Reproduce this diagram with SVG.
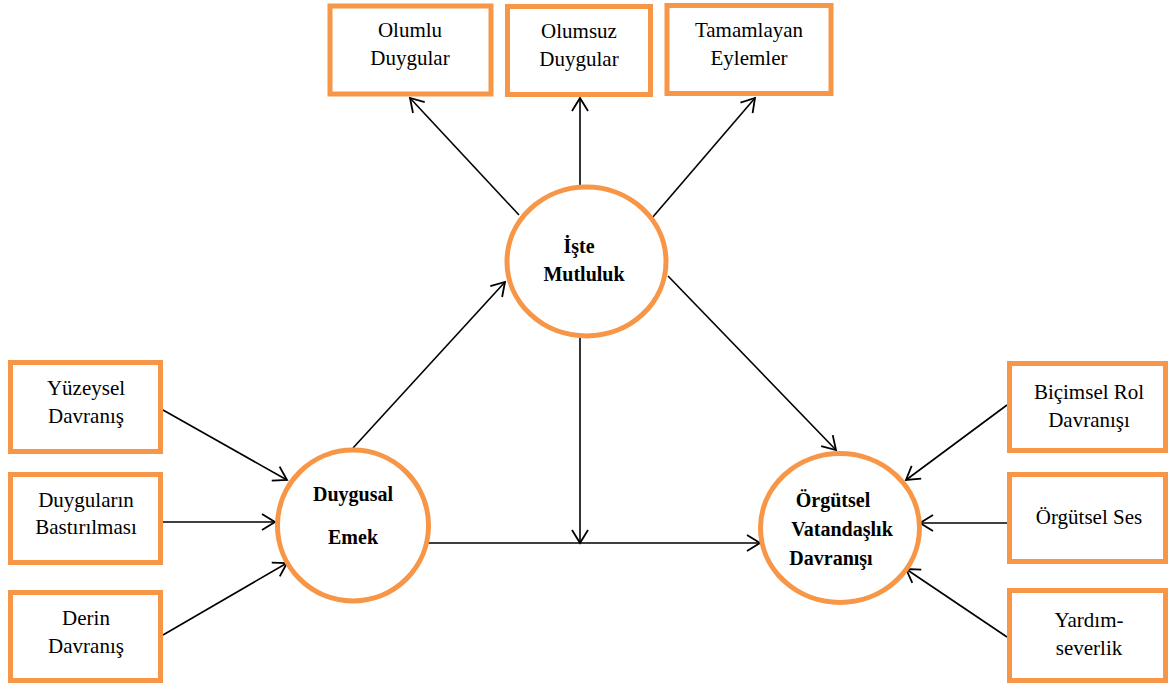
<svg xmlns="http://www.w3.org/2000/svg" width="1168" height="686" viewBox="0 0 1168 686">
<style>
.box{fill:#fff;stroke:#F79646;stroke-width:5}
.node{fill:#fff;stroke:#F79646;stroke-width:5}
.c line{stroke:#000;stroke-width:1.6;fill:none;marker-end:url(#ah)}
</style>
<defs>
<marker id="ah" markerUnits="userSpaceOnUse" markerWidth="30" markerHeight="30" viewBox="-15 -15 30 30" refX="0" refY="0" orient="auto">
<path d="M -13 -8 L 0 0 L -13 8" fill="none" stroke="#000" stroke-width="1.8"/>
</marker>
</defs>
<rect width="1168" height="686" fill="#fff"/>
<g class="c" id="connectors">
<line x1="519" y1="215" x2="410" y2="98"/>
<line x1="580" y1="185" x2="580" y2="98"/>
<line x1="652" y1="218" x2="755" y2="98"/>
<line x1="353" y1="448" x2="505" y2="282"/>
<line x1="668" y1="276" x2="836" y2="450"/>
<line x1="580" y1="338" x2="580" y2="543"/>
<line x1="425" y1="543" x2="760" y2="543"/>
<line x1="163" y1="410" x2="287" y2="480"/>
<line x1="161" y1="522" x2="275" y2="522"/>
<line x1="163" y1="635" x2="287" y2="563"/>
<line x1="1007" y1="405" x2="906" y2="480"/>
<line x1="1007" y1="523" x2="920" y2="523"/>
<line x1="1007" y1="637" x2="906" y2="569"/>
</g>
<g font-family="Liberation Serif, Tinos, Times New Roman, Noto Serif, DejaVu Serif, serif" font-size="21" text-anchor="middle" fill="#000">
<g id="olumlu"><rect class="box" x="330" y="6" width="161" height="88"/><text x="410" y="37">Olumlu</text><text x="410" y="65">Duygular</text></g>
<g id="olumsuz"><rect class="box" x="507.5" y="6.5" width="143" height="88"/><text x="579" y="38">Olumsuz</text><text x="579" y="66">Duygular</text></g>
<g id="tamamlayan"><rect class="box" x="667" y="5.5" width="164" height="88"/><text x="749" y="37">Tamamlayan</text><text x="749" y="65">Eylemler</text></g>
<g id="yuzeysel"><rect class="box" x="10.5" y="362.5" width="150" height="89"/><text x="86" y="395">Yüzeysel</text><text x="86" y="423">Davranış</text></g>
<g id="bastirilmasi"><rect class="box" x="10.5" y="474.5" width="150" height="88"/><text x="86" y="507">Duyguların</text><text x="86" y="534">Bastırılması</text></g>
<g id="derin"><rect class="box" x="10.5" y="592.5" width="150" height="88"/><text x="86" y="625">Derin</text><text x="86" y="653">Davranış</text></g>
<g id="bicimsel"><rect class="box" x="1009.5" y="363.5" width="156" height="87"/><text x="1089" y="399">Biçimsel Rol</text><text x="1089" y="427">Davranışı</text></g>
<g id="ses"><rect class="box" x="1009.5" y="474.5" width="156" height="87"/><text x="1089" y="524">Örgütsel Ses</text></g>
<g id="yardim"><rect class="box" x="1009.5" y="590.5" width="156" height="90"/><text x="1089" y="627">Yardım-</text><text x="1089" y="655">severlik</text></g>
<g font-weight="bold" font-size="20">
<g id="duygusal"><circle class="node" cx="353" cy="525.5" r="75.5"/><text x="353" y="501">Duygusal</text><text x="353" y="544">Emek</text></g>
<g id="mutluluk"><ellipse class="node" cx="586.5" cy="261.5" rx="79.5" ry="74.5"/><text x="579" y="253">İşte</text><text x="584" y="281">Mutluluk</text></g>
<g id="orgutsel"><ellipse class="node" cx="840" cy="528" rx="79.5" ry="74.5"/><text x="833" y="507">Örgütsel</text><text x="842" y="536">Vatandaşlık</text><text x="831" y="565">Davranışı</text></g>
</g>
</g>
</svg>
